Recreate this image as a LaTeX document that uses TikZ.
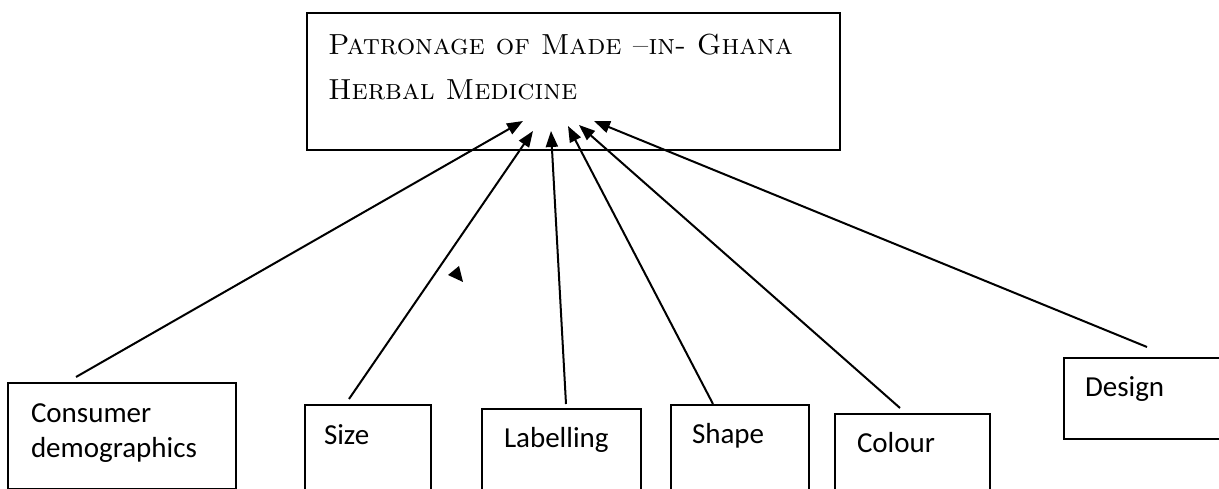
\documentclass[tikz,border=0pt]{standalone}
\usepackage{fontspec}
\newfontfamily\boxfont{Carlito}
\usetikzlibrary{arrows.meta}
\begin{document}
\begin{tikzpicture}[x=1pt, y=-1pt, >={Triangle[length=16pt,width=12pt]}, line width=2pt,
  factor/.style={draw, rectangle, line width=1.8pt, anchor=north west, inner sep=0pt},
  lbl/.style={anchor=base west, inner sep=0pt, align=left, font=\boxfont\fontsize{29}{35}\selectfont}]
\useasboundingbox (0,0) rectangle (1219,489);

% outcome
\node[draw, rectangle, line width=2.2pt, anchor=north west, inner sep=0pt,
  minimum width=533pt, minimum height=137pt] (patronage) at (306,12) {};
\node[anchor=base west, inner sep=0pt, align=left,
  font=\fontsize{29}{45}\selectfont\scshape\addfontfeature{FakeBold=1.2}]
  (title) at (327,100) {Patronage of Made –in- Ghana\\Herbal Medicine};

% factors
\node[factor, minimum width=228pt, minimum height=106pt] (consumer) at (7,382) {};
\node[factor, minimum width=126pt, minimum height=86pt] (size) at (304,404) {};
\node[factor, minimum width=159pt, minimum height=82pt] (labelling) at (481,408) {};
\node[factor, minimum width=138pt, minimum height=86pt] (shape) at (670,404) {};
\node[factor, minimum width=155pt, minimum height=77pt] (colour) at (834,413) {};
\node[factor, minimum width=162pt, minimum height=81pt] (design) at (1063,357) {};

\node[lbl] (consumertxt) at (30,457) {Consumer\\demographics};
\node[lbl] (sizetxt) at (323,444) {Size};
\node[lbl] (labellingtxt) at (503,447) {Labelling};
\node[lbl] (shapetxt) at (691,443) {Shape};
\node[lbl] (colourtxt) at (856,452) {Colour};
\node[lbl] (designtxt) at (1084,396) {Design};

% arrow ends in the outcome box
\coordinate (t1) at (523,121);
\coordinate (t2) at (533,131);
\coordinate (t3) at (551,131);
\coordinate (t4) at (568,126);
\coordinate (t5) at (579,125);
\coordinate (t6) at (594,121);

\draw[->] ([xshift=69pt,yshift=5pt]consumer.north west) -- (t1);
\draw[->] ([xshift=45pt,yshift=5pt]size.north west) -- (t2);
\draw[->] ([xshift=85pt,yshift=4pt]labelling.north west) -- (t3);
\draw[->] ([xshift=43pt]shape.north west) -- (t4);
\draw[->] ([xshift=66pt,yshift=5pt]colour.north west) -- (t5);
\draw[->] ([xshift=84pt,yshift=10pt]design.north west) -- (t6);

% stray arrow head
\fill (448,275) -- (459,266) -- (463,282) -- cycle;
\end{tikzpicture}
\end{document}
